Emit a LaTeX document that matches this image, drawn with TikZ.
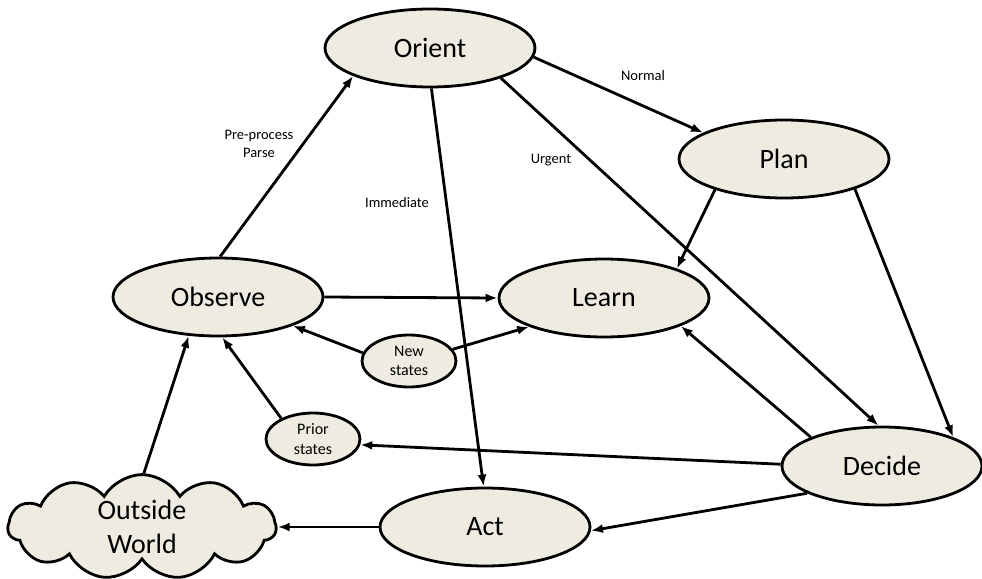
\documentclass[tikz,border=0pt]{standalone}
\usepackage{fontspec}
\setmainfont{Carlito}
\usetikzlibrary{shapes.geometric,shapes.symbols,arrows.meta}
\definecolor{boxfill}{HTML}{EEECE1}
\tikzset{
  stage/.style={ellipse, draw=black, line width=2.8pt, fill=boxfill,
    minimum width=210pt, minimum height=78pt, inner sep=0pt,
    font=\fontsize{28}{34}\selectfont},
  substate/.style={ellipse, draw=black, line width=2.8pt, fill=boxfill,
    minimum width=94pt, minimum height=52pt, inner sep=0pt, align=center,
    font=\fontsize{16}{19.5}\selectfont},
  worldcloud/.style={cloud, cloud puffs=11, cloud puff arc=120, aspect=2.6,
    draw=black, line width=2.8pt, fill=boxfill, minimum width=268pt,
    minimum height=104pt, inner sep=0pt, align=center,
    font=\fontsize{28}{34}\selectfont},
  link/.style={draw=black, line width=2.8pt, -{Latex[length=12pt,width=9pt]}},
  tag/.style={font=\fontsize{14.5}{18}\selectfont, align=center, inner sep=0pt}
}
\begin{document}
\begin{tikzpicture}[x=1pt,y=-1pt]
  \useasboundingbox (0,0) rectangle (982,578);

  % OODA-style stages
  \node[stage] (orient)  at (430,48)  {Orient};
  \node[stage] (plan)    at (784,159) {Plan};
  \node[stage] (observe) at (218,297) {Observe};
  \node[stage] (learn)   at (604,298) {Learn};
  \node[stage, minimum width=200pt] (decide) at (882,466) {Decide};
  \node[stage] (act)     at (485,527) {Act};
  \node[substate] (newst) at (409,361) {New\\states};
  \node[substate] (prior) at (313,439) {Prior\\states};
  \node[worldcloud] (world) at (142,527) {Outside\\World};

  % transitions
  \draw[link] (observe.87)  -- (orient.200);
  \draw[link] (orient.-5)   -- (plan.162);
  \draw[link] (orient.-88)  -- (act.92);
  \draw[link] (orient.-23)  -- (decide.95);
  \draw[link] (plan.204)    -- (learn.22);
  \draw[link] (plan.-23)    -- (decide.22);
  \draw[link] (observe.0)   -- (learn.180);
  \draw[link] (newst.170)   -- (observe.-21);
  \draw[link] (newst.15)    -- (learn.201);
  \draw[link] (decide.158)  -- (learn.-20);
  \draw[link] (decide.179)  -- (prior.-7);
  \draw[link] (prior.147)   -- (observe.-84);
  \draw[link] (world.88)    -- (observe.233);
  \draw[link] (decide.200)  -- (act.-2);
  \draw[link] (act.180)     -- (world.east);

  % edge labels
  \node[tag] (lparse)  at (259,144) {Pre-process\\Parse};
  \node[tag] (limm)    at (397,203) {Immediate};
  \node[tag] (lnormal) at (643,76)  {Normal};
  \node[tag] (lurgent) at (551,160) {Urgent};
\end{tikzpicture}
\end{document}
